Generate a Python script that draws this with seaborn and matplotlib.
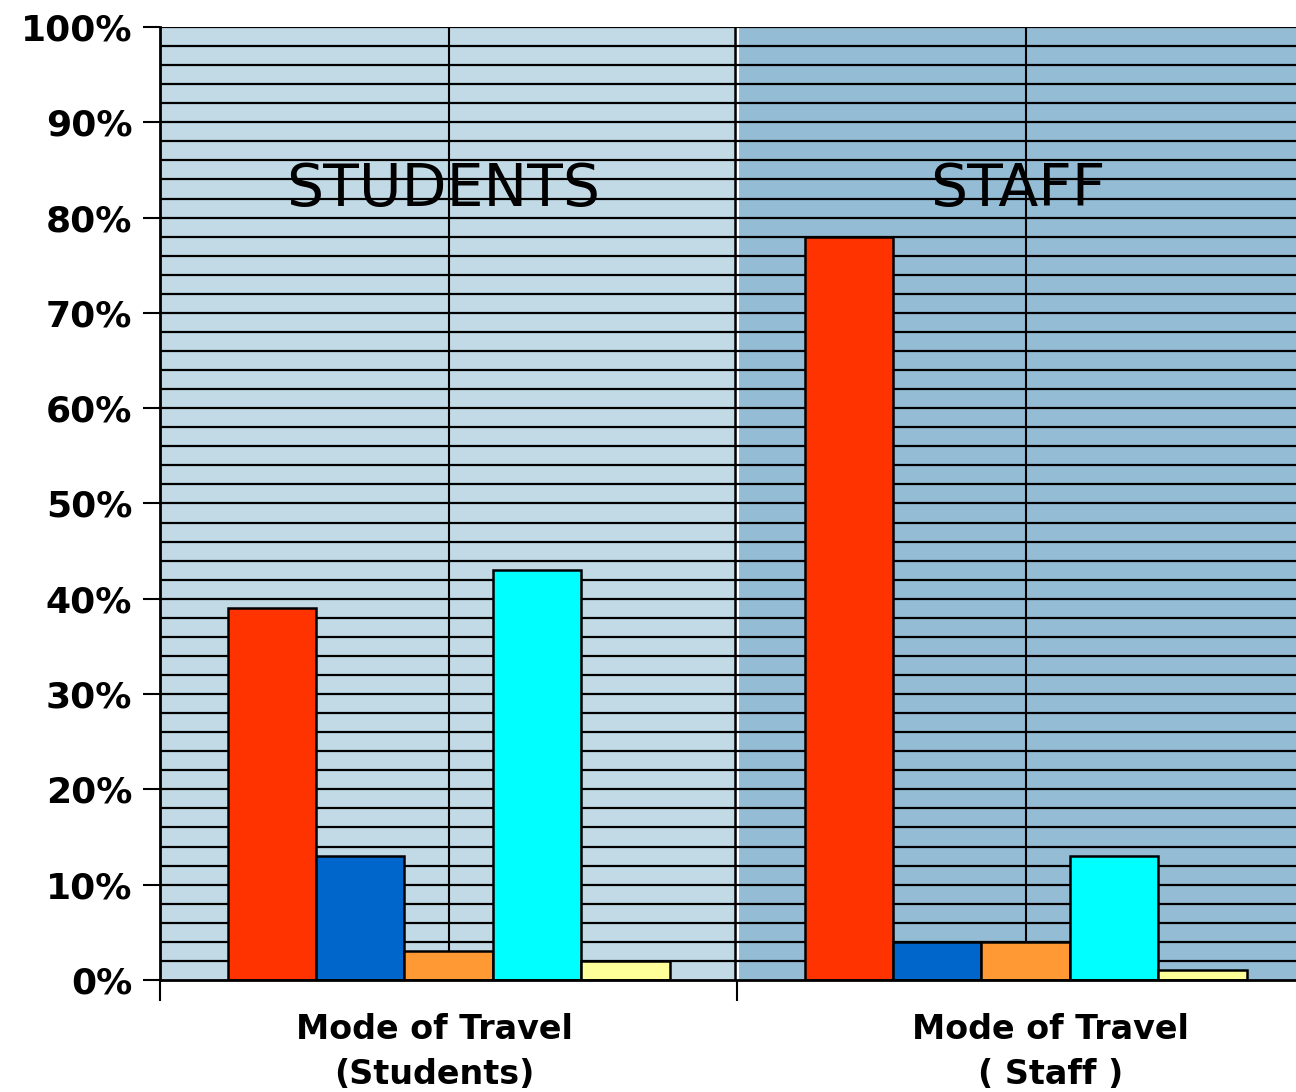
import numpy as np
import pandas as pd
import matplotlib
matplotlib.use("Agg")
import matplotlib.pyplot as plt
import seaborn as sns

groups = ["Students", "Staff"]
modes = ["Car", "Bus", "Motorcycle", "Walk", "Bicycle"]
students = [39, 13, 3, 43, 2]
staff = [78, 4, 4, 13, 1]
colors = ["#FF3300", "#0066CC", "#FF9933", "#00FFFF", "#FFFF99"]
panel_titles = ["STUDENTS", "STAFF"]
tick_labels = ["Mode of Travel\n(Students)", "Mode of Travel\n( Staff )"]

df = pd.DataFrame({
    "group": np.repeat(groups, len(modes)),
    "mode": modes * 2,
    "pct": students + staff,
})

sns.set_style("white")
plt.rcParams["font.family"] = ["DejaVu Sans"]
plt.rcParams["text.color"] = "black"
plt.rcParams["ytick.color"] = "black"
plt.rcParams["xtick.color"] = "black"

fig = plt.figure(figsize=(12.96, 10.92), dpi=100)
ax = fig.add_axes([0.1235, 0.1026, 0.8904, 0.8727])

# two shaded halves
ax.axvspan(-0.5, 0.5, color="#C2DAE6", zorder=0)
ax.axvspan(0.5, 1.5, color="#94BDD5", zorder=0)
ax.axvline(0.497, color="black", lw=1.8, zorder=1)
ax.axvline(0.501, color="white", lw=1.5, zorder=1)

# gridlines every 2%
for y in np.arange(2, 101, 2):
    ax.axhline(y, color="black", lw=1.6, zorder=1)
for x in [0, 1]:
    ax.axvline(x, color="black", lw=1.5, zorder=1)

sns.barplot(data=df, x="group", y="pct", hue="mode", palette=colors,
            width=0.766, edgecolor="black", linewidth=1.8, ax=ax,
            legend=False, zorder=3, saturation=1)

ax.set_xlim(-0.5, 1.5)
ax.set_ylim(0, 100)
ax.set_yticks(np.arange(0, 101, 10))
ax.set_yticklabels([f"{v}%" for v in range(0, 101, 10)],
                   fontsize=26, fontweight="bold")
ax.set_xticks([-0.5, 0.5])
ax.set_xticklabels([])
ax.tick_params(axis="y", direction="out", length=12, width=1.5, pad=8, left=True)
ax.tick_params(axis="x", direction="out", length=15, width=1.5, bottom=True)
ax.set_xlabel("")
ax.set_ylabel("")

for s in ["top", "right"]:
    ax.spines[s].set_visible(False)
for s in ["left", "bottom"]:
    ax.spines[s].set_color("black")
    ax.spines[s].set_linewidth(2)
    ax.spines[s].set_zorder(5)

ax.text(-0.01, 82.9, panel_titles[0], fontsize=42, ha="center", va="center", zorder=4)
ax.text(0.986, 82.9, panel_titles[1], fontsize=42, ha="center", va="center", zorder=4)

trans = ax.get_xaxis_transform()
ax.text(-0.024, -0.035, tick_labels[0], transform=trans, fontsize=24,
        fontweight="bold", ha="center", va="top", linespacing=1.45)
ax.text(1.043, -0.035, tick_labels[1], transform=trans, fontsize=24,
        fontweight="bold", ha="center", va="top", linespacing=1.45)

fig.savefig("out.png", dpi=100)
